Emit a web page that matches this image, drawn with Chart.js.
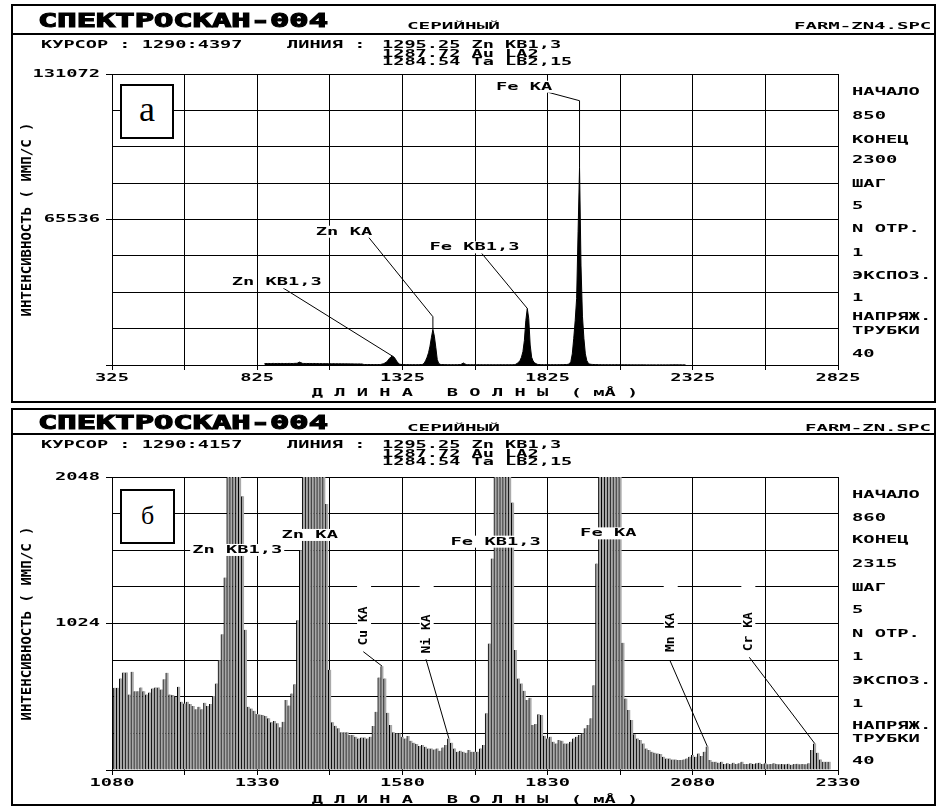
<!DOCTYPE html>
<html><head><meta charset="utf-8">
<script src="https://cdn.jsdelivr.net/npm/chart.js@4.4.1/dist/chart.umd.min.js"></script>
<style>
html,body{margin:0;padding:0;background:#fff;}
body{width:941px;height:807px;position:relative;overflow:hidden;}
.frame{position:absolute;border:2px solid #000;box-sizing:border-box;}
.sep{position:absolute;height:2px;background:#000;}
.t{position:absolute;font-family:"DejaVu Sans Mono",monospace;font-weight:bold;white-space:pre;line-height:1;transform-origin:0 0;color:#000;}
.big{-webkit-text-stroke:1.1px #000;}
canvas{position:absolute;left:0;}
.box{position:absolute;border:2px solid #000;background:#fff;box-sizing:border-box;display:flex;align-items:center;justify-content:center;font-family:"Liberation Serif",serif;color:#000;line-height:1;}
</style></head><body>
<div class="frame" style="left:11px;top:4px;width:925px;height:399px"></div>
<div class="sep" style="left:11px;top:33px;width:925px"></div>
<div class="frame" style="left:11px;top:408px;width:925px;height:398px"></div>
<div class="sep" style="left:11px;top:433px;width:925px"></div>
<canvas id="cA" width="941" height="404" style="top:0"></canvas>
<canvas id="cB" width="941" height="403" style="top:404px"></canvas>
<div class="box" style="left:120px;top:84px;width:54px;height:55px;font-size:36px;padding-bottom:6px">а</div>
<div class="box" style="left:120px;top:489px;width:55px;height:55px;font-size:26px;padding-bottom:2px">б</div>
<script>
// ---------- DATA ----------
const wavelengthStartA = 850, wavelengthStepA = 5;
const intensityA = [
 620,680,650,700,640,660,720,680,650,700,
 690,660,710,680,650,700,670,720,690,660,
 700,740,760,900,1300,1100,760,700,680,690,
 660,700,650,640,690,660,620,650,600,640,
 610,580,620,600,570,590,560,600,580,550,
 570,540,560,530,550,520,540,510,530,500,
 520,490,500,480,470,500,460,480,300,220,
 200,190,210,180,200,190,170,200,190,210,
 250,400,600,900,1400,2000,2900,3600,4050,3700,
 2900,1800,900,400,250,200,180,170,160,170,
 160,150,160,150,140,150,160,170,200,300,
 800,2000,3500,5500,8500,12500,16000,13000,8000,2500,
 700,300,200,180,170,160,150,160,150,140,
 150,140,160,150,170,200,500,900,500,200,
 160,150,140,130,140,130,120,130,120,130,
 120,110,120,110,120,110,100,110,100,110,
 100,110,130,120,100,110,100,110,120,110,
 130,140,160,300,700,1200,2000,3500,6000,11000,
 20000,25500,21000,9000,3500,1800,1000,600,300,200,
 180,160,150,140,150,140,130,140,150,140,
 150,140,150,160,170,160,180,200,220,300,
 500,1500,5000,12000,20000,30000,60000,89000,45000,22000,
 12000,5000,2000,800,400,300,250,200,190,180,
 160,150,140,130,120,130,120,110,120,110,
 120,110,130,150,130,110,100,90,100,90,
 80,90,80,70,80,70,60,70,60,70,
 60,70,60,50,60,50,60,50,60,50,
 50,60,50,60,50,60,50,60,50,60,
 60,70,90,100,90,70,60,60,50,60,
 50
];
const xTicksA = [325,575,825,1075,1325,1575,1825,2075,2325,2575,2825];
const xLabelsA = [325,825,1325,1825,2325,2825];
const yTicksA = [0,16384,32768,49152,65536,81920,98304,114688,131072];
const yLabelsA = [65536,131072];

const wavelengthStartB = 1085, wavelengthStepB = 5;
const intensityB = [
 575,575,640,682,682,528,686,551,551,577,
 551,528,542,570,577,577,563,635,680,528,
 524,512,582,477,465,477,461,447,424,442,
 424,470,447,461,517,605,768,949,1345,2600,
 3400,3800,3300,2400,1913,980,442,430,414,391,
 388,384,377,361,333,342,326,298,337,489,
 451,535,600,1047,1536,2600,4500,7000,9000,10000,
 9000,6500,4000,1860,700,333,309,291,263,263,
 263,244,244,233,221,228,228,221,233,307,
 407,647,726,640,400,314,263,256,256,233,
 221,237,205,191,181,168,175,163,151,151,
 144,151,135,158,175,221,191,151,128,135,
 128,121,140,128,128,128,151,175,396,884,
 1478,2600,4000,5500,6000,5000,3200,1870,838,640,
 605,554,489,505,314,321,389,384,240,221,
 233,198,186,209,205,186,186,198,221,233,
 245,256,291,314,361,593,1443,2800,6000,12000,
 20000,24000,18000,9000,3500,889,500,419,349,250,
 221,209,186,151,140,128,121,116,112,93,
 81,81,74,74,70,70,74,81,93,105,
 93,116,98,128,165,70,58,58,51,58,
 42,47,42,51,42,47,58,42,42,47,
 42,47,51,42,47,40,42,47,42,40,
 42,40,44,37,42,44,40,42,40,47,
 140,185,121,74,58,58,58
];
const xTicksB = [1080,1205,1330,1455,1580,1705,1830,1955,2080,2205,2330];
const xLabelsB = [1080,1330,1580,1830,2080,2330];
const yTicksB = [0,256,512,768,1024,1280,1536,1792,2048];
const yLabelsB = [1024,2048];

const xTitle = 'Д Л И Н А   В О Л Н Ы  ( мÅ )';
const yTitle = 'ИНТЕНСИВНОСТЬ ( ИМП/С )';

const headerA = {title:'СПЕКТРОСКАН-004', mode:'СЕРИЙНЫЙ', file:'FARM-ZN4.SPC', cursor:'КУРСОР : 1290:4397', line:'ЛИНИЯ :',
  lines:['1295.25 Zn KB1,3','1287.72 Au LA2','1284.54 Ta LB2,15'],
  side:['НАЧАЛО','850','КОНЕЦ','2300','ШАГ','5','N ОТР.','1','ЭКСПОЗ.','1','НАПРЯЖ.','ТРУБКИ','40']};
const headerB = {title:'СПЕКТРОСКАН-004', mode:'СЕРИЙНЫЙ', file:'FARM-ZN.SPC', cursor:'КУРСОР : 1290:4157', line:'ЛИНИЯ :',
  lines:['1295.25 Zn KB1,3','1287.72 Au LA2','1284.54 Ta LB2,15'],
  side:['НАЧАЛО','860','КОНЕЦ','2315','ШАГ','5','N ОТР.','1','ЭКСПОЗ.','1','НАПРЯЖ.','ТРУБКИ','40']};

// peak annotations (data coordinates: wavelength, intensity)
const peaksA = [
  {text:'Zn KB1,3', at:[737,37250], leader:[[914,34700],[1290,4050]]},
  {text:'Zn KA', at:[1027,60040], leader:[[1207,57790],[1430,21750],[1430,16000]]},
  {text:'Fe KB1,3', at:[1418,53000], leader:[[1598,50310],[1755,25500]]},
  {text:'Fe KA', at:[1647,125350], leader:[[1827,122830],[1935,119040],[1935,89000]]}
];
const peaksB = [
  {text:'Zn KB1,3', at:[1218,1538], full:true},
  {text:'Zn KA', at:[1372,1643], full:true},
  {text:'Fe KB1,3', at:[1663,1596], full:true},
  {text:'Fe KA', at:[1886,1654], full:true},
  {text:'Cu KA', at:[1514,1007], rot:true, leader:[[1512.7,827],[1545,726]]},
  {text:'Ni KA', at:[1621.8,951], rot:true, leader:[[1620.6,774],[1660,221]]},
  {text:'Mn KA', at:[2042,961], rot:true, leader:[[2040.8,764],[2105,165]]},
  {text:'Cr KA', at:[2175.6,967], rot:true, leader:[[2177.3,788],[2290,185]]}
];

// ---------- LAYOUT ----------
const TSX = 1.7;
function put(text, left, cy, fs, sx, right, cls) {
  const d = document.createElement('div');
  d.className = 't' + (cls ? ' ' + cls : ''); d.textContent = text;
  d.style.fontSize = fs + 'px';
  d.style.top = (cy - 0.4815 * fs) + 'px';
  d.style.transform = 'scaleX(' + sx + ')';
  d.style.left = '0px';
  document.body.appendChild(d);
  if (right !== undefined && right !== null) {
    const w = d.getBoundingClientRect().width;
    d.style.left = (right - w) + 'px';
  } else d.style.left = left + 'px';
}
function header(h, dy, lineYs, sideYs) {
  put(h.title, 38, 20 + dy, 19, 1.69, null, 'big');
  put(h.mode, 407, 26 + dy, 9.5, 2.03);
  put(h.file, 0, 26 + dy, 9.5, 2.0, 931);
  put(h.cursor, 41, lineYs[0], 11, 1.69);
  put(h.line, 287, lineYs[0], 11, 1.69);
  h.lines.forEach((s, i) => put(s, 382, lineYs[i], 11, 1.69));
  h.side.forEach((s, i) => put(s, 852, sideYs[i], 10.5, 1.79));
}
header(headerA, 0, [44.2, 52.8, 61], [91.5,115,139,159,183.5,205,228.3,251.7,275,297.3,316,330,353.3]);
header(headerB, 402, [444.7, 453, 461], [494,517.3,539.5,563,586.7,609.3,633.3,656,680,702.7,725,738.3,760]);

function patchText(ctx, sx) {
  const fill = ctx.fillText.bind(ctx);
  const meas = ctx.measureText.bind(ctx);
  ctx.fillText = function (t, x, y, mw) {
    const m = ctx.getTransform();
    if (Math.abs(m.b) > 1e-6 || Math.abs(m.c) > 1e-6) {
      return (mw === undefined || mw === null) ? fill(t, x, y) : fill(t, x, y, mw);
    }
    ctx.save();
    ctx.translate(x, y);
    ctx.scale(sx, 1);
    if (mw === undefined || mw === null) fill(t, 0, 0); else fill(t, 0, 0, mw / sx);
    ctx.restore();
  };
  ctx.measureText = function (t) {
    const r = meas(t);
    return {width: r.width * sx,
      actualBoundingBoxAscent: r.actualBoundingBoxAscent, actualBoundingBoxDescent: r.actualBoundingBoxDescent,
      actualBoundingBoxLeft: r.actualBoundingBoxLeft * sx, actualBoundingBoxRight: r.actualBoundingBoxRight * sx,
      fontBoundingBoxAscent: r.fontBoundingBoxAscent, fontBoundingBoxDescent: r.fontBoundingBoxDescent};
  };
}

const mono = s => ({family: '"DejaVu Sans Mono"', size: s, weight: 'bold'});

const annot = {
  id: 'annot',
  afterDraw(chart, args, opts) {
    const ctx = chart.ctx, xs = chart.scales.x, ys = chart.scales.y;
    const px = v => xs.getPixelForValue(v), py = v => ys.getPixelForValue(v);
    ctx.save();
    ctx.strokeStyle = '#000'; ctx.lineWidth = 1;
    for (const L of opts.items) {
      if (!L.leader) continue;
      ctx.beginPath();
      L.leader.forEach((p, i) => i ? ctx.lineTo(px(p[0]), py(p[1])) : ctx.moveTo(px(p[0]), py(p[1])));
      ctx.stroke();
    }
    for (const L of opts.items) {
      const x = px(L.at[0]), y = py(L.at[1]);
      if (L.rot) {
        ctx.font = 'bold 13px "DejaVu Sans Mono"';
        const w = ctx.measureText(L.text).width / TSX;
        ctx.save();
        ctx.translate(x, y); ctx.rotate(-Math.PI / 2);
        ctx.fillStyle = '#fff';
        ctx.fillRect(-w / 2 - 3, -7, w + 33, 14);
        ctx.fillStyle = '#000'; ctx.textAlign = 'center'; ctx.textBaseline = 'middle';
        ctx.fillText(L.text, 0, 0);
        ctx.restore();
      } else {
        ctx.font = 'bold 11px "DejaVu Sans Mono"';
        ctx.textAlign = 'left'; ctx.textBaseline = 'middle';
        ctx.fillStyle = '#fff';
        if (L.full) {
          const tw = ctx.measureText(L.text).width;
          ctx.fillRect(x - 2, y - 6, tw + 4, 12);
        } else {
          let off = 0;
          const sp = ctx.measureText(' ').width;
          for (const wd of L.text.split(' ')) {
            const ww = ctx.measureText(wd).width;
            ctx.fillRect(x + off - 1, y - 6, ww + 2, 12);
            off += ww + sp;
          }
        }
        ctx.fillStyle = '#000';
        ctx.fillText(L.text, x, y);
      }
    }
    ctx.restore();
  }
};

function axes(xmin, xmax, xTicks, xLabels, ymax, yTicks, yLabels, xh, titlePad, z) {
  return {
    x: {type: 'linear', min: xmin, max: xmax, offset: false, z: z,
      afterFit: s => { s.height = xh; },
      afterBuildTicks: s => { s.ticks = xTicks.map(v => ({value: v})); },
      ticks: {autoSkip: false, maxRotation: 0, minRotation: 0, padding: 2, color: '#000', font: mono(11),
        callback: v => xLabels.includes(v) ? String(v) : ''},
      grid: {color: '#000', lineWidth: 1, tickLength: 5, tickColor: '#000', offset: false},
      border: {color: '#000', width: 1},
      title: {display: true, text: xTitle, color: '#000', font: mono(11), padding: {top: 0, bottom: titlePad}}},
    y: {min: 0, max: ymax, z: z,
      afterFit: s => { s.width = 100; },
      afterBuildTicks: s => { s.ticks = yTicks.map(v => ({value: v})); },
      ticks: {autoSkip: false, padding: 6, color: '#000', font: mono(11),
        callback: v => yLabels.includes(v) ? String(v) : ''},
      grid: {color: '#000', lineWidth: 1, tickLength: 6,
        tickColor: c => (c.tick && (c.tick.value === 0 || yLabels.includes(c.tick.value))) ? '#000' : 'rgba(0,0,0,0)'},
      border: {color: '#000', width: 1},
      title: {display: true, text: yTitle, color: '#000', font: mono(14), padding: {top: 7, bottom: 0}}}
  };
}

const ctxA = document.getElementById('cA').getContext('2d');
patchText(ctxA, TSX);
new Chart(ctxA, {
  type: 'line',
  data: {datasets: [{
    data: intensityA.map((v, i) => ({x: wavelengthStartA + i * wavelengthStepA, y: v})),
    borderColor: '#000', backgroundColor: '#000', borderWidth: 1, pointRadius: 0, fill: 'origin', tension: 0
  }]},
  options: {
    responsive: false, animation: false, events: [],
    layout: {padding: {left: 12, top: 74, right: 103, bottom: 0}},
    plugins: {legend: {display: false}, tooltip: {enabled: false}, annot: {items: peaksA}},
    scales: axes(325, 2825, xTicksA, xLabelsA, 131072, yTicksA, yLabelsA, 39, 4, 0)
  },
  plugins: [annot]
});

const ctxB = document.getElementById('cB').getContext('2d');
patchText(ctxB, TSX);
new Chart(ctxB, {
  type: 'bar',
  data: {datasets: [{
    data: intensityB.map((v, i) => ({x: wavelengthStartB + i * wavelengthStepB, y: v})),
    backgroundColor: '#a9a9a9', borderColor: '#000', borderWidth: {left: 1, right: 0, top: 0, bottom: 0},
    borderSkipped: false, barPercentage: 1, categoryPercentage: 1
  }]},
  options: {
    responsive: false, animation: false, events: [],
    layout: {padding: {left: 12, top: 73, right: 103, bottom: 0}},
    plugins: {legend: {display: false}, tooltip: {enabled: false}, annot: {items: peaksB}},
    scales: axes(1080, 2330, xTicksB, xLabelsB, 2048, yTicksB, yLabelsB, 37, 0, 1)
  },
  plugins: [annot]
});
</script>
</body></html>
